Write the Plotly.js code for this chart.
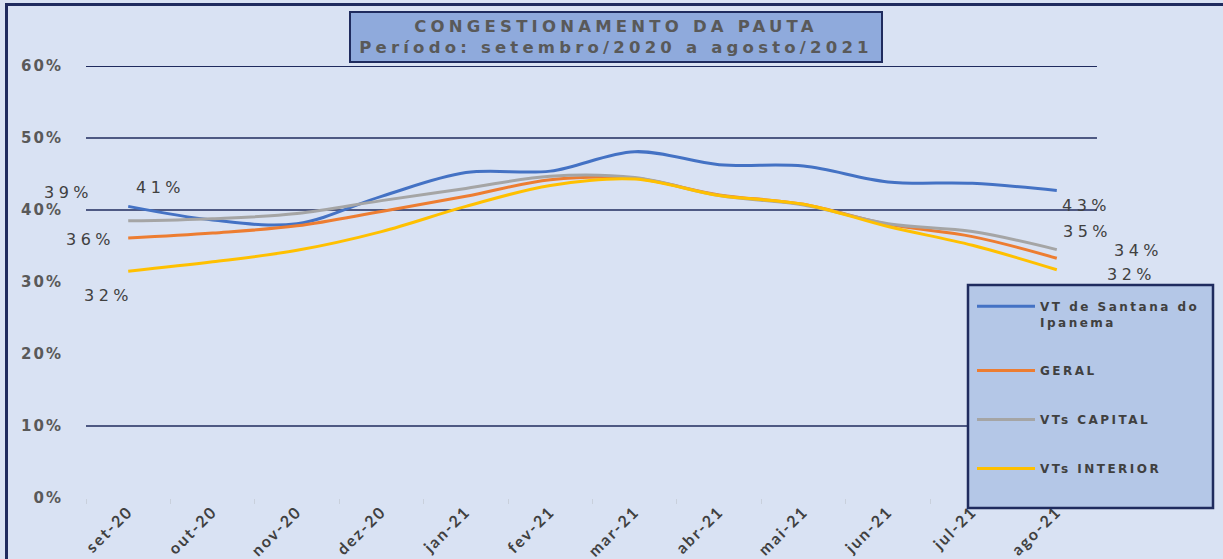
<!DOCTYPE html>
<html>
<head>
<meta charset="utf-8">
<script src="https://cdn.plot.ly/plotly-3.0.1.min.js"></script>
<style>
  html, body { margin: 0; padding: 0; background: #d9e2f3; }
  #chart { width: 1223px; height: 559px; }
  svg text { letter-spacing: 2.5px; }
  #chart .xtick text { letter-spacing: 2px; }
  #chart .ytick text { letter-spacing: 2px; }
  #chart g.annotation text { letter-spacing: 4.5px; }
  #chart g.annotation[data-index="0"] text { letter-spacing: 4.2px; }
  #frame { position: absolute; left: 5px; top: 3px; width: 1218px; height: 556px;
           border-top: 3px solid #1f2b5e; border-left: 3px solid #1f2b5e;
           box-sizing: border-box; pointer-events: none; }
</style>
</head>
<body>
<div id="chart"></div>
<div id="frame"></div>
<script>
// ---- data ----
const months = ['set-20','out-20','nov-20','dez-20','jan-21','fev-21','mar-21','abr-21','mai-21','jun-21','jul-21','ago-21'];
const vtSantana   = [0.405,0.386,0.381,0.419,0.452,0.454,0.481,0.463,0.461,0.439,0.437,0.427];
const geral       = [0.361,0.368,0.378,0.398,0.419,0.442,0.444,0.421,0.408,0.380,0.363,0.333];
const vtsCapital  = [0.385,0.388,0.395,0.413,0.430,0.447,0.445,0.420,0.407,0.381,0.370,0.345];
const vtsInterior = [0.315,0.328,0.344,0.370,0.405,0.434,0.443,0.420,0.408,0.377,0.351,0.317];
const seriesNames = ['VT de Santana do<br>Ipanema','GERAL','VTs CAPITAL','VTs INTERIOR'];
const startLabels = ['41%','36%','39%','32%'];
const endLabels   = ['43%','34%','35%','32%'];
const yTickVals  = [0,0.1,0.2,0.3,0.4,0.5,0.6];
const yTickText  = ['0%','10%','20%','30%','40%','50%','60%'];
const gridLevels = [0.1,0.4,0.5,0.6];
const titleText = '<b>CONGESTIONAMENTO DA PAUTA</b><br><b>Período: setembro/2020 a agosto/2021</b>';

// ---- styling ----
const navy = '#1f2b5e';
const colors = ['#4472c4','#ed7d31','#a5a5a5','#ffc000'];
const seriesData = [vtSantana, geral, vtsCapital, vtsInterior];
// label offsets (px) per series: [start dx, start dy, end dx, end dy]
const labelOffsets = [
  [32, 19, 30, -15],
  [-38, -1, 82, 8],
  [-60, 28, 31, 18],
  [-20, -24, 75, -5]
];

const traces = seriesData.map((vals, i) => ({
  x: months, y: vals, type: 'scatter', mode: 'lines',
  name: seriesNames[i], legendgroup: 'g' + i,
  line: {color: colors[i], width: 3, shape: 'spline', smoothing: 1}
}));

const labelFont = {family: 'DejaVu Sans', size: 16, color: '#404040'};
const annotations = [{
  xref: 'paper', yref: 'paper', x: 0.523, y: 1.066, xanchor: 'center', yanchor: 'middle',
  text: titleText, showarrow: false, width: 528, height: 46,
  bgcolor: '#8faadc', bordercolor: navy, borderwidth: 2, borderpad: 1,
  font: {family: 'DejaVu Sans', size: 16.5, color: '#595959'}
}];
seriesData.forEach((vals, i) => {
  annotations.push({x: months[0], y: vals[0], text: startLabels[i], showarrow: false,
    xshift: labelOffsets[i][0], yshift: labelOffsets[i][1], font: labelFont});
  annotations.push({x: months[months.length-1], y: vals[vals.length-1], text: endLabels[i], showarrow: false,
    xshift: labelOffsets[i][2], yshift: labelOffsets[i][3], font: labelFont});
});

const shapes = gridLevels.map(v => ({
  type: 'line', xref: 'paper', yref: 'y', x0: 0, x1: 0.998, y0: v, y1: v,
  line: {color: navy, width: v === 0.6 ? 1.8 : 1.3}, layer: 'below'
}));
// legend box
shapes.push({type: 'rect', xref: 'paper', yref: 'paper',
  x0: (968-86)/1013, x1: (1213-86)/1013, y0: (498-508)/432, y1: (498-285)/432,
  fillcolor: '#b4c7e7', line: {color: navy, width: 2.5}, layer: 'above'});

const layout = {
  width: 1223, height: 559,
  margin: {l: 86, r: 124, t: 66, b: 61},
  paper_bgcolor: '#d9e2f3', plot_bgcolor: '#d9e2f3',
  showlegend: true,
  legend: {
    x: (972-86)/1013, y: (498-292)/432, xanchor: 'left', yanchor: 'top',
    bgcolor: 'rgba(0,0,0,0)', borderwidth: 0,
    traceorder: 'grouped', tracegroupgap: 30, itemwidth: 58, valign: 'top',
    font: {family: 'DejaVu Sans', size: 12, color: '#404040', weight: 'bold'}
  },
  xaxis: {
    type: 'category', range: [-0.5, 11.5], showgrid: false, zeroline: false,
    showline: false, tickangle: -45, ticks: 'outside', tickson: 'boundaries',
    ticklen: 5, tickcolor: '#c9d0dc',
    tickfont: {family: 'Lato', size: 16, color: '#404040', weight: 'bold'}
  },
  yaxis: {
    range: [0, 0.6], tickvals: yTickVals, ticktext: yTickText, showgrid: false,
    zeroline: false, showline: false, ticks: '', ticklabelstandoff: 22,
    tickfont: {family: 'DejaVu Sans', size: 15, color: '#595959', weight: 'bold'}
  },
  shapes: shapes,
  annotations: annotations
};

Plotly.newPlot('chart', traces, layout, {displayModeBar: false, staticPlot: true});
</script>
</body>
</html>
